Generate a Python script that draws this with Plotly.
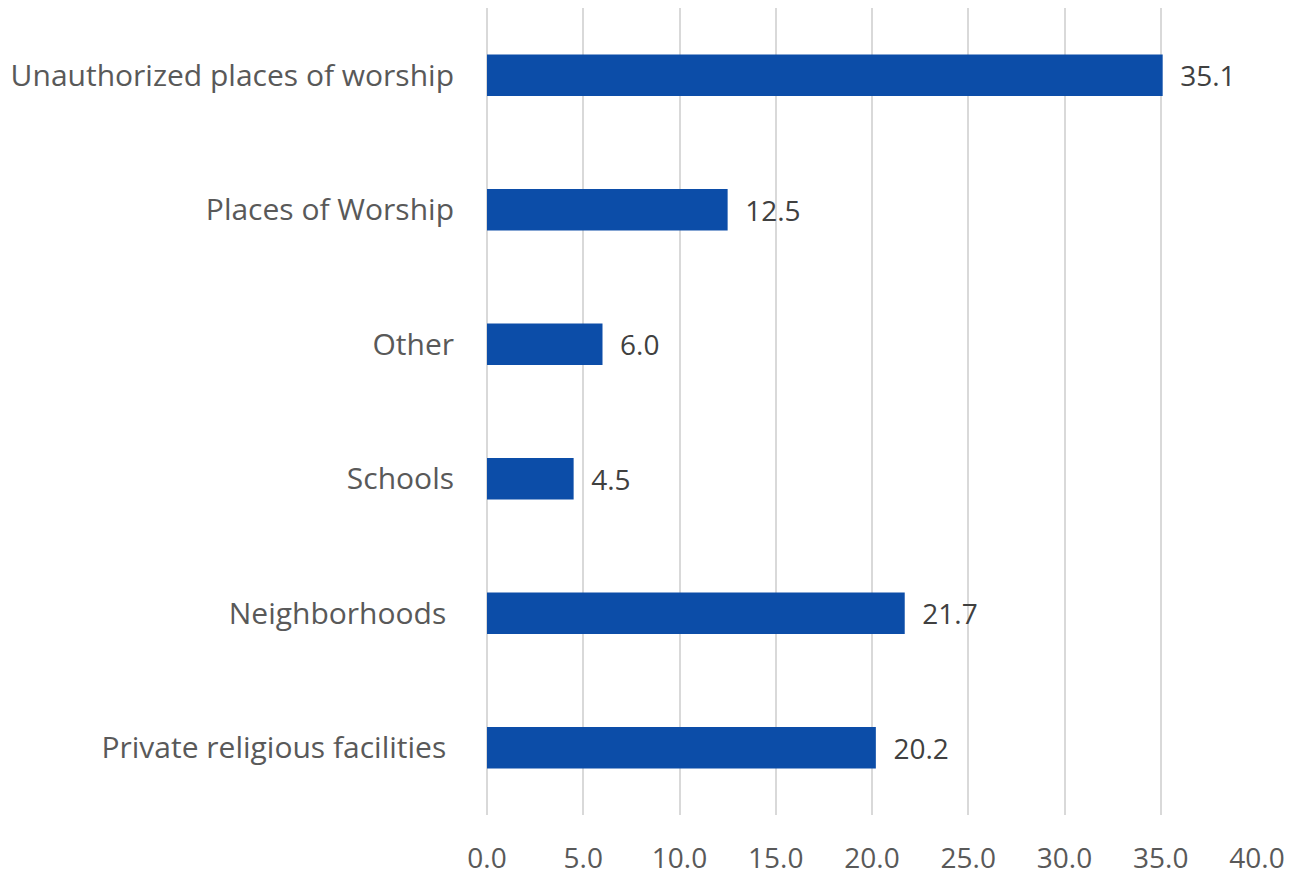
import plotly.graph_objects as go

# Share of incidents by location (percent)
categories = [
    "Unauthorized places of worship",
    "Places of Worship",
    "Other",
    "Schools",
    "Neighborhoods ",
    "Private religious facilities ",
]
values = [35.1, 12.5, 6.0, 4.5, 21.7, 20.2]
tick_vals = [0, 5, 10, 15, 20, 25, 30, 35, 40]
tick_text = ["0.0", "5.0", "10.0", "15.0", "20.0", "25.0", "30.0", "35.0", "40.0"]

FONT = "Open Sans, Noto Sans, sans-serif"

fig = go.Figure(
    go.Bar(
        x=values,
        y=categories,
        orientation="h",
        width=0.31,
        marker=dict(color="#0C4DA8", line=dict(width=0)),
        text=[f"  {v:.1f}" for v in values],
        textposition="outside",
        textfont=dict(family=FONT, size=28, color="#404040"),
        cliponaxis=False,
    )
)

fig.update_layout(
    width=1299,
    height=882,
    margin=dict(l=487, r=42, t=8, b=67),
    paper_bgcolor="white",
    plot_bgcolor="white",
    showlegend=False,
    font=dict(family=FONT, color="#595959"),
    xaxis=dict(
        range=[0, 40],
        tickvals=tick_vals,
        ticktext=tick_text,
        showgrid=True,
        gridcolor="#D9D9D9",
        gridwidth=2,
        zeroline=True,
        zerolinecolor="#D9D9D9",
        zerolinewidth=2,
        showline=False,
        automargin=False,
        tickfont=dict(family=FONT, size=28, color="#595959"),
        ticklabelstandoff=24,
    ),
    yaxis=dict(
        autorange="reversed",
        showgrid=False,
        showline=False,
        automargin=False,
        tickfont=dict(family=FONT, size=30, color="#595959"),
        ticklabelstandoff=32,
    ),
)

fig.write_html("out.html")
